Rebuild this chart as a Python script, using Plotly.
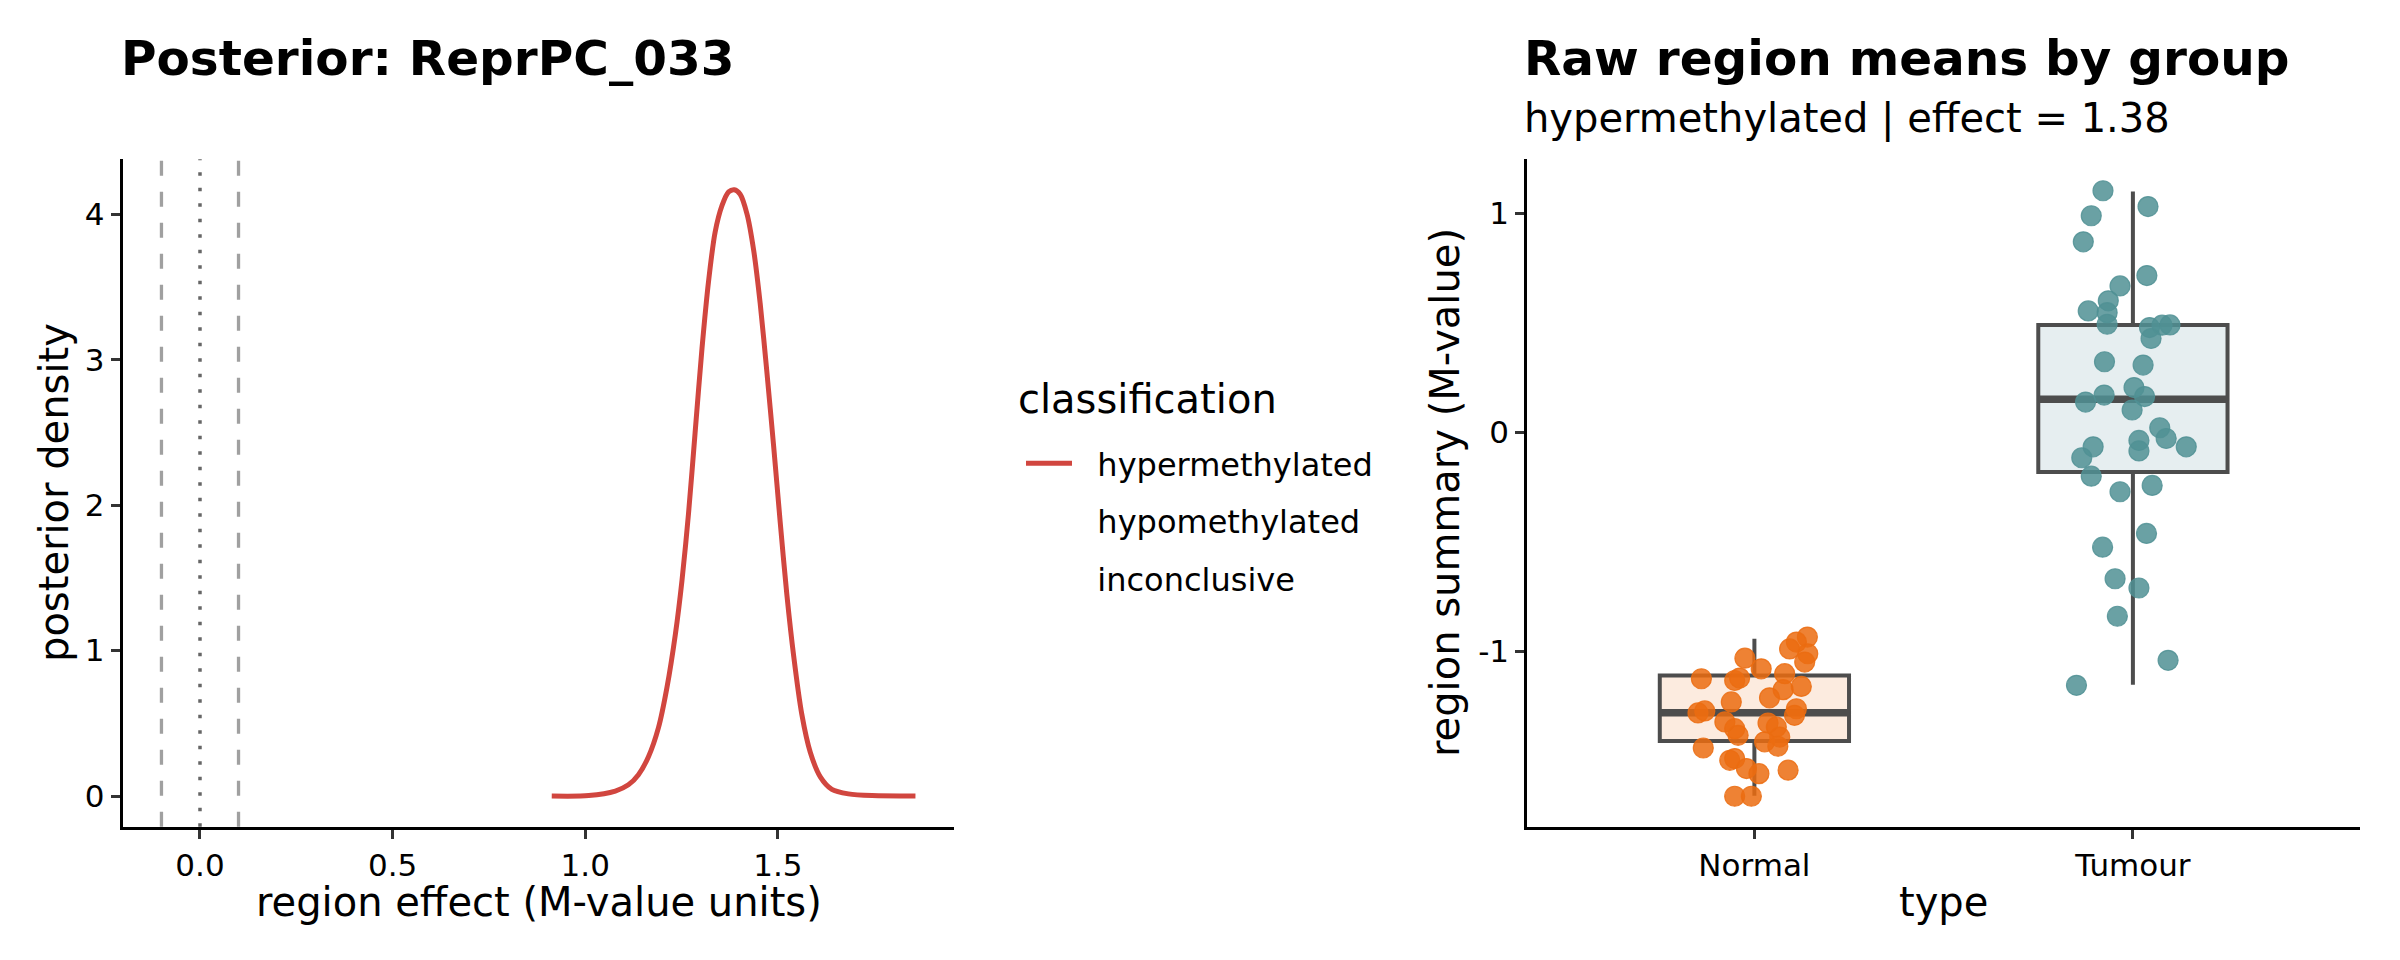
import plotly.graph_objects as go

# ---- posterior density (left panel) ----
density_x = [0.913, 1.009, 1.078, 1.112, 1.138, 1.164, 1.190, 1.212, 1.234, 1.251, 1.268,
             1.285, 1.303, 1.320, 1.337, 1.355, 1.372, 1.387, 1.402, 1.420, 1.437, 1.454,
             1.471, 1.489, 1.506, 1.523, 1.541, 1.562, 1.584, 1.610, 1.640, 1.683, 1.744, 1.857]
density_y = [0.0, 0.003, 0.034, 0.077, 0.147, 0.270, 0.470, 0.746, 1.115, 1.483, 1.944,
             2.497, 3.080, 3.541, 3.878, 4.062, 4.155, 4.170, 4.139, 4.001, 3.755, 3.387,
             2.926, 2.404, 1.882, 1.391, 0.961, 0.562, 0.301, 0.132, 0.046, 0.015, 0.003, 0.0]
rope_bounds = [-0.1, 0.1]
null_effect = 0.0
classes = ["hypermethylated", "hypomethylated", "inconclusive"]
left_xticks = [0.0, 0.5, 1.0, 1.5]
left_yticks = [0, 1, 2, 3, 4]

# ---- raw region means (right panel) ----
groups = ["Normal", "Tumour"]
normal_dx = [0.140, 0.111, 0.093, 0.141, 0.133, -0.025, 0.018, 0.080, -0.140, -0.052,
             -0.039, 0.076, 0.124, 0.040, -0.061, -0.149, -0.131, 0.111, 0.106, -0.078,
             -0.052, -0.043, 0.036, 0.058, 0.067, 0.027, 0.062, -0.135, -0.065, -0.052,
             -0.021, 0.012, 0.089, -0.052, -0.008]
normal_y = [-0.934, -0.957, -0.988, -1.010, -1.048, -1.030, -1.079, -1.101, -1.124, -1.132,
            -1.121, -1.174, -1.159, -1.211, -1.230, -1.280, -1.271, -1.261, -1.291, -1.321,
            -1.352, -1.382, -1.326, -1.344, -1.390, -1.412, -1.432, -1.440, -1.496, -1.488,
            -1.534, -1.557, -1.541, -1.660, -1.660]
tumour_dx = [-0.079, 0.040, -0.110, -0.131, 0.037, -0.034, -0.065, -0.118, -0.068, -0.068,
             0.044, 0.077, 0.098, 0.048, -0.075, 0.027, 0.003, -0.076, -0.125, 0.031,
             -0.002, 0.071, 0.088, 0.016, 0.016, 0.141, -0.105, -0.135, -0.110, -0.034,
             0.051, 0.036, -0.080, -0.047, 0.016, -0.041, 0.093, -0.149]
tumour_y = [1.102, 1.030, 0.988, 0.869, 0.715, 0.668, 0.600, 0.554, 0.546, 0.493,
            0.478, 0.489, 0.490, 0.428, 0.322, 0.307, 0.204, 0.170, 0.138, 0.163,
            0.102, 0.021, -0.028, -0.037, -0.085, -0.066, -0.066, -0.116, -0.200, -0.271,
            -0.242, -0.461, -0.524, -0.668, -0.710, -0.839, -1.040, -1.154]
box_q1 = [-1.408, -0.181]
box_median = [-1.279, 0.151]
box_q3 = [-1.109, 0.490]
box_lower = [-1.658, -1.151]
box_upper = [-0.942, 1.099]
right_yticks = [-1, 0, 1]
right_yticktext = ["-1", "0", "1"]

# page body has an 8px margin, so the figure is made smaller and positions shifted
OFF = 8
W, H = 2400 - 2 * OFF, 960 - 2 * OFF
FONT = "DejaVu Sans"
RED = "#D1463F"
point_col = ["rgba(235,108,16,0.85)", "rgba(80,145,148,0.85)"]
box_fill = ["#FCEBDF", "#E6EEF0"]
BOX_LINE = "#4D4D4D"
BOX_W = 0.5
PAD = "\u00a0\u00a0"  # extra gap between legend key and label


def px(x):
    return (x - OFF) / W


def py(y):
    return 1 - (y - OFF) / H


fig = go.Figure()

# density line + legend entries
fig.add_trace(go.Scatter(x=density_x, y=density_y, mode="lines", name=PAD + classes[0],
                         line=dict(color=RED, width=5, shape="spline", smoothing=0.8),
                         legendgroup="a", xaxis="x", yaxis="y"))
for i, c in enumerate(classes[1:]):
    fig.add_trace(go.Scatter(x=[None], y=[None], mode="lines", name=PAD + c,
                             line=dict(color="rgba(0,0,0,0)", width=5),
                             legendgroup="g%d" % i, xaxis="x", yaxis="y"))

for b in rope_bounds:
    fig.add_vline(x=b, line=dict(color="#A0A0A0", width=3.3, dash="15px,16px"), xref="x", yref="y")
fig.add_vline(x=null_effect, line=dict(color="#666666", width=3.5, dash="3.5px,12px"), xref="x", yref="y")

# boxes
for i, g in enumerate(groups):
    pos = i + 1
    fig.add_trace(go.Box(x=[pos], q1=[box_q1[i]], median=[box_median[i]], q3=[box_q3[i]],
                         lowerfence=[box_lower[i]], upperfence=[box_upper[i]],
                         width=BOX_W, whiskerwidth=0, boxpoints=False,
                         fillcolor=box_fill[i], line=dict(color=BOX_LINE, width=4),
                         showlegend=False, hoverinfo="skip", xaxis="x2", yaxis="y2"))
    fig.add_trace(go.Scatter(x=[pos - BOX_W / 2, pos + BOX_W / 2], y=[box_median[i]] * 2,
                             mode="lines", line=dict(color=BOX_LINE, width=7.5),
                             showlegend=False, hoverinfo="skip", xaxis="x2", yaxis="y2"))

for i, (dx, yy) in enumerate([(normal_dx, normal_y), (tumour_dx, tumour_y)]):
    fig.add_trace(go.Scatter(x=[i + 1 + d for d in dx], y=yy, mode="markers",
                             marker=dict(size=20, color=point_col[i],
                                         line=dict(color=point_col[i], width=1.2)),
                             showlegend=False, xaxis="x2", yaxis="y2"))

axis_common = dict(showline=True, linecolor="black", linewidth=3, ticks="outside",
                   ticklen=9, tickwidth=3, tickcolor="#333333", showgrid=False, zeroline=False,
                   tickfont=dict(family=FONT, size=31, color="black"))

y_dom = [py(826.7), py(159.2)]
fig.update_layout(
    width=W, height=H, margin=dict(l=0, r=0, t=0, b=0),
    paper_bgcolor="white", plot_bgcolor="white",
    font=dict(family=FONT, color="black"),
    xaxis=dict(domain=[px(122.7), px(953.6)], range=[-0.2006, 1.956], anchor="y",
               tickvals=left_xticks, tickformat=".1f", **axis_common),
    yaxis=dict(domain=y_dom, range=[-0.211, 4.38], anchor="x",
               tickvals=left_yticks, **axis_common),
    xaxis2=dict(domain=[px(1527.3), px(2360)], range=[0.4, 2.6], anchor="y2",
                tickvals=[1, 2], ticktext=groups, **axis_common),
    yaxis2=dict(domain=y_dom, range=[-1.799, 1.246], anchor="x2",
                tickvals=right_yticks, ticktext=right_yticktext, **axis_common),
    showlegend=True,
    legend=dict(x=px(1021), xanchor="left", y=py(436), yanchor="top",
                font=dict(family=FONT, size=32), itemwidth=46,
                traceorder="grouped", tracegroupgap=13, bgcolor="rgba(0,0,0,0)"),
)

ann = [
    dict(text="<b>Posterior: ReprPC_033</b>", x=px(119), y=py(58), size=48.5, xanchor="left"),
    dict(text="<b>Raw region means by group</b>", x=px(1522), y=py(58), size=48.5, xanchor="left"),
    dict(text="hypermethylated | effect = 1.38", x=px(1522), y=py(118), size=40, xanchor="left"),
    dict(text="region effect (M-value units)", x=px(539), y=py(902), size=40, xanchor="center"),
    dict(text="type", x=px(1943.7), y=py(902), size=40, xanchor="center"),
    dict(text="classification", x=px(1016), y=py(399), size=40, xanchor="left"),
]
for a in ann:
    fig.add_annotation(text=a["text"], x=a["x"], y=a["y"], xref="paper", yref="paper",
                       xanchor=a["xanchor"], yanchor="middle", showarrow=False,
                       font=dict(family=FONT, size=a["size"], color="black"))
for txt, xx in [("posterior density", 54), ("region summary (M-value)", 1445)]:
    fig.add_annotation(text=txt, x=px(xx), y=py(493), xref="paper", yref="paper",
                       xanchor="center", yanchor="middle", textangle=-90, showarrow=False,
                       font=dict(family=FONT, size=40, color="black"))

fig.write_html("out.html")
